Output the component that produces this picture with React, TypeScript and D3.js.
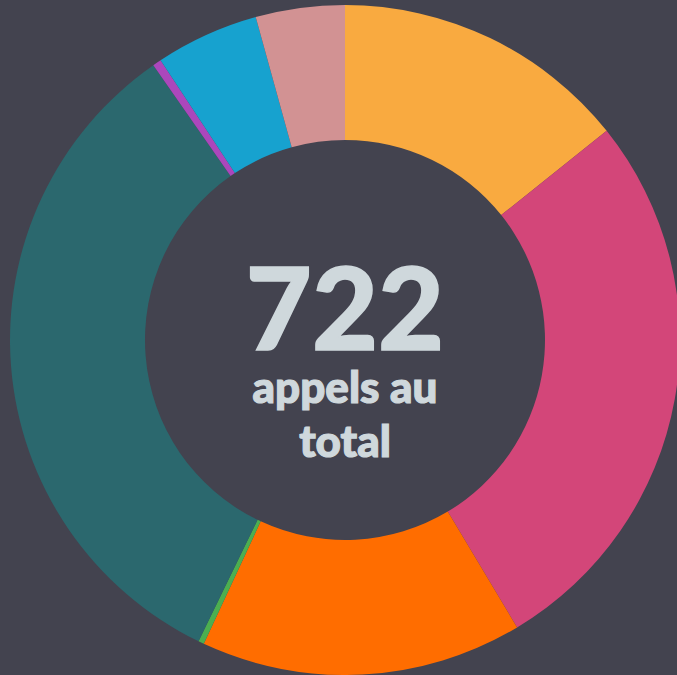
import { useRef, useEffect } from 'react';
import * as d3 from 'd3';

const categories = ['A', 'B', 'C', 'D', 'E', 'F', 'G', 'H'];
const values = [103, 196, 112, 2, 239, 3, 36, 31];
const colors = ['#f9aa40', '#d34679', '#ff6d00', '#4caf50', '#2b686e', '#ab47bc', '#17a2cf', '#d29293'];
const total = 722;
const label1 = 'appels au';
const label2 = 'total';

const W = 677;
const H = 675;

export default function App() {
  const svgRef = useRef<SVGSVGElement>(null);

  useEffect(() => {
    if (!svgRef.current) return;
    const svg = d3.select(svgRef.current);
    svg.selectAll('*').remove();

    svg.append('rect').attr('width', W).attr('height', H).attr('fill', '#43434f');

    const cx = 345;
    const cy = 340;
    const outer = 335;
    const inner = 200;

    const data = categories.map((c, i) => ({ c, v: values[i], color: colors[i] }));
    const pie = d3.pie<any>().value((d) => d.v).sort(null);
    const arc = d3.arc<any>().innerRadius(inner).outerRadius(outer);

    const g = svg.append('g').attr('transform', `translate(${cx}, ${cy})`);

    g.selectAll('path')
      .data(pie(data))
      .join('path')
      .attr('d', arc)
      .attr('fill', (d: any) => d.data.color);

    const font = 'Lato, "Open Sans", sans-serif';

    // big number, stroked a little to mimic the heavy weight
    g.append('text')
      .attr('text-anchor', 'middle')
      .attr('y', 10)
      .attr('font-family', font)
      .attr('font-weight', 900)
      .attr('font-size', 114)
      .attr('fill', '#cfd8dc')
      .attr('stroke', '#cfd8dc')
      .attr('stroke-width', 1.5)
      .text(total);

    g.append('text')
      .attr('text-anchor', 'middle')
      .attr('y', 63)
      .attr('font-family', font)
      .attr('font-weight', 900)
      .attr('font-size', 44)
      .attr('fill', '#cfd8dc')
      .attr('stroke', '#cfd8dc')
      .attr('stroke-width', 1.2)
      .text(label1);

    g.append('text')
      .attr('text-anchor', 'middle')
      .attr('y', 117)
      .attr('font-family', font)
      .attr('font-weight', 900)
      .attr('font-size', 44)
      .attr('fill', '#cfd8dc')
      .attr('stroke', '#cfd8dc')
      .attr('stroke-width', 1.2)
      .text(label2);
  }, []);

  return (
    <div style={{ position: 'fixed', left: 0, top: 0 }}>
      <svg ref={svgRef} width={W} height={H} style={{ display: 'block' }} />
    </div>
  );
}
